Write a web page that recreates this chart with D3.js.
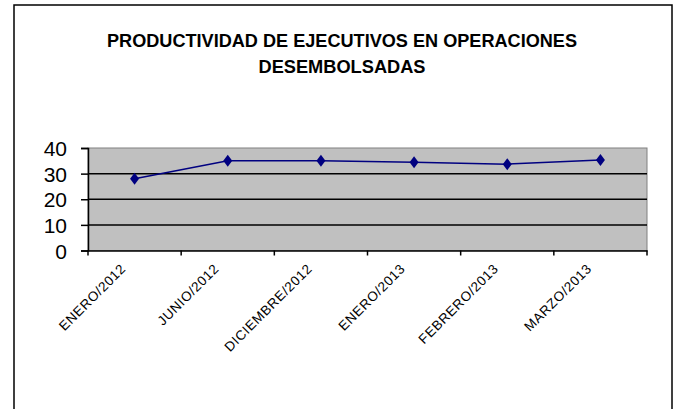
<!DOCTYPE html>
<html><head><meta charset="utf-8">
<script src="https://cdn.jsdelivr.net/npm/d3@7"></script>
<style>body{margin:0;background:#fff}svg{display:block}</style>
</head><body>
<script>
const categories = ["ENERO/2012","JUNIO/2012","DICIEMBRE/2012","ENERO/2013","FEBRERO/2013","MARZO/2013"];
const values = [28, 35, 35, 34.4, 33.7, 35.3];
const yTicks = [0, 10, 20, 30, 40];
const titleLines = ["PRODUCTIVIDAD DE EJECUTIVOS EN OPERACIONES", "DESEMBOLSADAS"];

const W = 678, H = 409;
const svg = d3.select("body").append("svg").attr("width", W).attr("height", H);
svg.append("rect").attr("x",14).attr("y",5).attr("width",658).attr("height",420)
  .attr("fill","#fff").attr("stroke","#000").attr("stroke-width",1.5);

const L = 88, R = 647, T = 148, B = 250.5;
const x = d3.scaleBand().domain(categories).range([L, R]);
const y = d3.scaleLinear().domain([0, 40]).range([B, T]);

svg.append("rect").attr("x",L).attr("y",T).attr("width",R-L).attr("height",B-T)
  .attr("fill","#c0c0c0").attr("stroke","#808080").attr("stroke-width",1);

// gridlines
svg.append("g").selectAll("line").data(yTicks.filter(d=>d>0 && d<40)).join("line")
  .attr("x1",L).attr("x2",R).attr("y1",d=>y(d)).attr("y2",d=>y(d))
  .attr("stroke","#000").attr("stroke-width",1.5);

// y axis
const ya = svg.append("g").attr("transform",`translate(${L},0)`)
  .call(d3.axisLeft(y).tickValues(yTicks).tickSize(7).tickPadding(14));
ya.select(".domain").attr("stroke","#000").attr("stroke-width",1.5);
ya.selectAll(".tick line").attr("stroke","#000").attr("stroke-width",1.5);
ya.selectAll("text").attr("font-family","Liberation Sans, Arial, sans-serif")
  .attr("font-size",21).attr("fill","#000").attr("dy","0.36em");

// x axis
const xa = svg.append("g").attr("transform",`translate(0,${B})`)
  .call(d3.axisBottom(x).tickSize(0).tickFormat(()=>""));
xa.select(".domain").attr("stroke","#000").attr("stroke-width",1.5);
const bounds = d3.range(categories.length+1).map(i => L + i*x.step());
svg.append("g").selectAll("line").data(bounds).join("line")
  .attr("x1",d=>d).attr("x2",d=>d).attr("y1",B).attr("y2",B+5)
  .attr("stroke","#000").attr("stroke-width",1.5);
svg.append("g").selectAll("text").data(categories).join("text")
  .attr("transform", d => `translate(${x(d)+x.bandwidth()/2-8},${B+19}) rotate(-45)`)
  .attr("text-anchor","end")
  .attr("font-family","Liberation Sans, Arial, sans-serif")
  .attr("font-size",13.5).attr("letter-spacing",0.6).attr("fill","#000")
  .text(d=>d);

// line
const line = d3.line().x((d,i)=>x(categories[i])+x.bandwidth()/2).y(d=>y(d));
svg.append("path").datum(values).attr("d",line).attr("fill","none")
  .attr("stroke","#000080").attr("stroke-width",1.5);
svg.append("g").selectAll("path").data(values).join("path")
  .attr("transform",(d,i)=>`translate(${x(categories[i])+x.bandwidth()/2},${y(d)})`)
  .attr("d","M0,-6L4.5,0L0,6L-4.5,0Z").attr("fill","#000080");

// title
const tl = [{t:titleLines[0], y:47, w:470},{t:titleLines[1], y:73, w:167}];
svg.append("g").selectAll("text").data(tl).join("text")
  .attr("x",342).attr("y",d=>d.y).attr("text-anchor","middle")
  .attr("font-family","Liberation Sans, Arial, sans-serif").attr("font-weight","bold")
  .attr("font-size",18).attr("textLength",d=>d.w).attr("lengthAdjust","spacingAndGlyphs")
  .attr("fill","#000").text(d=>d.t);
</script>
</body></html>
